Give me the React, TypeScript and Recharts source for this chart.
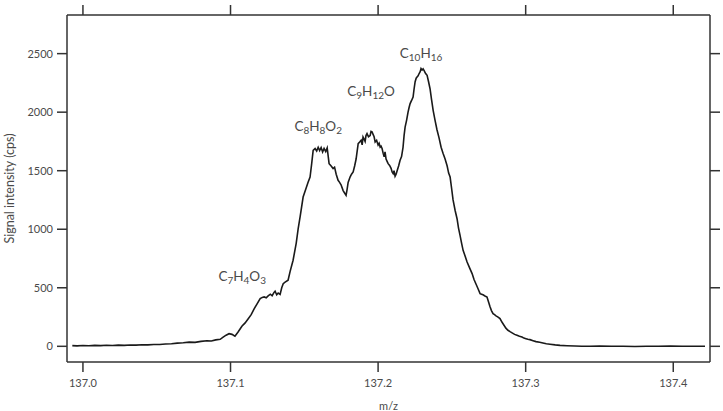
import { LineChart, Line, XAxis, YAxis, ReferenceDot } from "recharts"

// m/z values of the trace
const mz = [
  136.9928, 136.996, 137.0, 137.004, 137.008, 137.012, 137.016, 137.02, 137.024, 137.028,
  137.032, 137.036, 137.04, 137.044, 137.048, 137.052, 137.056, 137.06, 137.064, 137.068,
  137.072, 137.076, 137.08, 137.084, 137.087, 137.09, 137.093, 137.095, 137.097, 137.099,
  137.101, 137.103, 137.105, 137.1077, 137.1099, 137.112, 137.114, 137.116, 137.1181, 137.1201,
  137.1215, 137.1228, 137.1242, 137.1255, 137.127, 137.1282, 137.1295, 137.1302, 137.1313, 137.1323,
  137.1336, 137.1347, 137.1357, 137.137, 137.139, 137.1404, 137.1424, 137.1445, 137.1458, 137.1472,
  137.1492, 137.1512, 137.1525, 137.1539, 137.155, 137.156, 137.1573, 137.1584, 137.1594, 137.1604,
  137.1614, 137.1624, 137.1634, 137.1645, 137.1655, 137.1668, 137.1682, 137.1695, 137.1705, 137.1716,
  137.1729, 137.1739, 137.1749, 137.1763, 137.1773, 137.1783, 137.179, 137.1797, 137.181, 137.182,
  137.1831, 137.1841, 137.1851, 137.1865, 137.1875, 137.1885, 137.1892, 137.1898, 137.1905, 137.1912,
  137.1918, 137.1925, 137.1935, 137.1946, 137.1952, 137.1959, 137.1966, 137.1973, 137.198, 137.199,
  137.2, 137.2007, 137.2014, 137.202, 137.2027, 137.2034, 137.2041, 137.2047, 137.2054, 137.2061,
  137.2068, 137.2078, 137.2088, 137.2095, 137.2102, 137.2108, 137.2115, 137.2122, 137.2129, 137.2139,
  137.2149, 137.2159, 137.2169, 137.2176, 137.2183, 137.2193, 137.2203, 137.221, 137.2217, 137.2227,
  137.2237, 137.2244, 137.2251, 137.2258, 137.2264, 137.2271, 137.2278, 137.2285, 137.2291, 137.2298,
  137.2305, 137.2312, 137.2322, 137.2332, 137.2342, 137.2352, 137.2362, 137.2373, 137.2386, 137.2399,
  137.2413, 137.2427, 137.244, 137.2454, 137.2468, 137.2478, 137.2488, 137.2498, 137.2508, 137.2522,
  137.2535, 137.2545, 137.2555, 137.2566, 137.2576, 137.259, 137.2603, 137.262, 137.2637, 137.265,
  137.2664, 137.2678, 137.2691, 137.2701, 137.2711, 137.2724, 137.2738, 137.2748, 137.2758, 137.2768,
  137.2779, 137.2789, 137.2799, 137.2813, 137.2826, 137.284, 137.2853, 137.2866, 137.288, 137.2894,
  137.2908, 137.2925, 137.2941, 137.2958, 137.2975, 137.2988, 137.3002, 137.3015, 137.3029, 137.305,
  137.307, 137.3095, 137.3117, 137.314, 137.3165, 137.32, 137.3233, 137.328, 137.3334, 137.338,
  137.3436, 137.35, 137.358, 137.366, 137.374, 137.382, 137.39, 137.398, 137.406, 137.414,
  137.4215,
]

// signal intensity (cps)
const intensity = [
  6, 4, 7, 5, 8, 6, 9, 7, 10, 8,
  11, 10, 13, 12, 16, 15, 20, 22, 27, 30,
  36, 34, 42, 48, 45, 55, 60, 78, 95, 108,
  102, 86, 120, 171, 200, 236, 270, 320, 365, 407,
  418, 422, 415, 430, 445, 432, 460, 470, 440, 455,
  444, 500, 535, 548, 564, 640, 735, 880, 1000, 1110,
  1275, 1350, 1400, 1446, 1560, 1674, 1690, 1668, 1700, 1672,
  1698, 1660, 1690, 1664, 1695, 1560, 1540, 1518, 1530, 1470,
  1418, 1400, 1380, 1330, 1310, 1290, 1340, 1400, 1446, 1470,
  1489, 1540, 1600, 1731, 1745, 1760, 1720, 1788, 1770, 1750,
  1800, 1817, 1790, 1800, 1835, 1831, 1810, 1790, 1745, 1760,
  1720, 1735, 1702, 1710, 1690, 1650, 1620, 1660, 1600, 1580,
  1560, 1545, 1520, 1490, 1475, 1500, 1452, 1470, 1500, 1540,
  1589, 1620, 1700, 1800, 1873, 1930, 2000, 2040, 2073, 2100,
  2129, 2200, 2260, 2290, 2300, 2310, 2330, 2345, 2372, 2360,
  2370, 2355, 2330, 2315, 2260, 2200, 2110, 2016, 1930, 1850,
  1780, 1700, 1650, 1600, 1540, 1480, 1446, 1350, 1250, 1160,
  1090, 1010, 950, 880, 820, 770, 720, 670, 621, 570,
  530, 490, 450, 445, 440, 430, 421, 380, 340, 305,
  279, 270, 260, 250, 237, 205, 180, 155, 137, 125,
  115, 102, 94, 86, 80, 70, 65, 60, 57, 48,
  40, 34, 28, 22, 18, 12, 8, 5, 3, 1,
  0, 2, 0, 1, -1, 1, 0, 2, 0, 1,
  0,
]

const xTicks = [137.0, 137.1, 137.2, 137.3, 137.4]
const yTicks = [0, 500, 1000, 1500, 2000, 2500]

// peak labels: [element, count] pairs, placed at (m/z, intensity)
const peakLabels = [
  { parts: [["C", "7"], ["H", "4"], ["O", "3"]], x: 137.1079, y: 590 },
  { parts: [["C", "8"], ["H", "8"], ["O", "2"]], x: 137.1594, y: 1870 },
  { parts: [["C", "9"], ["H", "12"], ["O", ""]], x: 137.1952, y: 2170 },
  { parts: [["C", "10"], ["H", "16"]], x: 137.2291, y: 2500 },
]

const data = mz.map((m, i) => ({ mz: m, cps: intensity[i] }))

const font = "Lato, 'Open Sans', sans-serif"
const axisColor = "#333"
const tickStyle = { fill: "#4a4a4a", fontSize: 11, fontFamily: font }

function Formula({ cx, cy, parts }: any) {
  const items: any[] = []
  parts.forEach(([el, n]: string[], i: number) => {
    items.push(
      <tspan key={"e" + i} fontSize={13.5} dy={i === 0 ? 0 : -3}>
        {el}
      </tspan>
    )
    if (n)
      items.push(
        <tspan key={"n" + i} fontSize={10} dy={3}>
          {n}
        </tspan>
      )
    else items.push(<tspan key={"n" + i} dy={3}></tspan>)
  })
  return (
    <text x={cx} y={cy + 4} textAnchor="middle" fill="#4a4a4a" fontFamily={font}>
      {items}
    </text>
  )
}

export default function App() {
  return (
    <div style={{ position: "absolute", left: 0, top: 0, background: "#fff" }}>
      <LineChart width={723} height={411} data={data} margin={{ top: 0, right: 0, bottom: 0, left: 7 }}>
        <XAxis
          xAxisId="b"
          dataKey="mz"
          type="number"
          domain={[136.9892, 137.4249]}
          ticks={xTicks}
          allowDataOverflow
          height={49}
          tickSize={10}
          tickMargin={7}
          tickFormatter={(v) => v.toFixed(1)}
          axisLine={{ stroke: axisColor, strokeWidth: 1.5 }}
          tickLine={{ stroke: axisColor, strokeWidth: 1.5 }}
          tick={tickStyle}
          label={{ value: "m/z", position: "insideBottom", offset: 1, style: { ...tickStyle } }}
        />
        <XAxis
          xAxisId="t"
          orientation="top"
          dataKey="mz"
          type="number"
          domain={[136.9892, 137.4249]}
          ticks={xTicks}
          allowDataOverflow
          height={15}
          tickSize={10}
          tickFormatter={() => ""}
          axisLine={{ stroke: axisColor, strokeWidth: 1.5 }}
          tickLine={{ stroke: axisColor, strokeWidth: 1.5 }}
        />
        <YAxis
          yAxisId="l"
          type="number"
          domain={[-134, 2830]}
          ticks={yTicks}
          allowDataOverflow
          width={60}
          tickSize={10}
          tickMargin={4}
          axisLine={{ stroke: axisColor, strokeWidth: 1.5 }}
          tickLine={{ stroke: axisColor, strokeWidth: 1.5 }}
          tick={tickStyle}
          label={{
            value: "Signal intensity (cps)",
            angle: -90,
            position: "insideLeft",
            offset: 3,
            style: { ...tickStyle, fontSize: 12.5, textAnchor: "middle" },
          }}
        />
        <YAxis
          yAxisId="r"
          orientation="right"
          type="number"
          domain={[-134, 2830]}
          ticks={yTicks}
          allowDataOverflow
          width={13}
          tickSize={10}
          tickFormatter={() => ""}
          axisLine={{ stroke: axisColor, strokeWidth: 1.5 }}
          tickLine={{ stroke: axisColor, strokeWidth: 1.5 }}
        />
        <Line
          xAxisId="b"
          yAxisId="l"
          type="linear"
          dataKey="cps"
          stroke="#1a1a1a"
          strokeWidth={1.6}
          dot={false}
          isAnimationActive={false}
        />
        {peakLabels.map((p, i) => (
          <ReferenceDot
            key={i}
            xAxisId="b"
            yAxisId="l"
            x={p.x}
            y={p.y}
            r={0}
            shape={(props: any) => <Formula cx={props.cx} cy={props.cy} parts={p.parts} />}
          />
        ))}
      </LineChart>
    </div>
  )
}
